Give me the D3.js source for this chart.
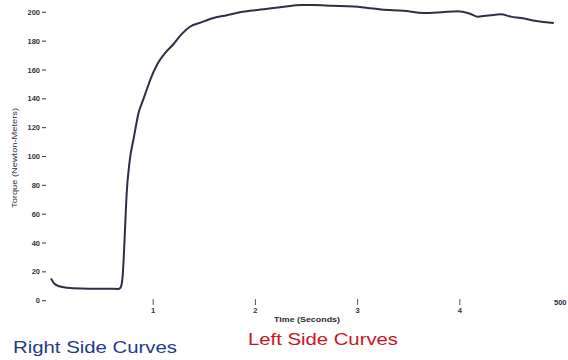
<!DOCTYPE html>
<html>
<head>
<meta charset="utf-8">
<script src="https://cdn.jsdelivr.net/npm/d3@7"></script>
<style>
	body { margin: 0; background: white; }
	svg { display: block; font-family: "Liberation Sans", Arial, sans-serif; }
</style>
</head>
<body>
<svg id="chart" width="568" height="360"></svg>
<script>
// Torque trace. Time in seconds, torque in N·m.
let times = [0.00, 0.03, 0.08, 0.16, 0.30, 0.50, 0.66, 0.68, 0.70, 0.715, 0.725, 0.74, 0.77, 0.81, 0.856, 0.905, 0.94, 0.97, 1.04, 1.12, 1.20, 1.28, 1.36, 1.47, 1.59, 1.72, 1.85, 2.00, 2.18, 2.30, 2.44, 2.57, 2.75, 2.96, 3.10, 3.23, 3.45, 3.65, 3.82, 3.98, 4.10, 4.18, 4.30, 4.40, 4.50, 4.60, 4.75, 4.92]
let torque = [15.5, 12, 10, 9, 8.5, 8.3, 8.2, 9, 16, 35, 51, 74, 97, 113, 130, 140, 147, 153, 164, 172, 178, 185, 190, 193, 196, 198, 200, 201.5, 203, 204, 205, 205, 204.5, 204, 203, 202, 201, 199.5, 200, 200.7, 199, 197, 198, 198.6, 197, 196, 194, 192.6]

let yticks = [0, 20, 40, 60, 80, 100, 120, 140, 160, 180, 200]
let xticks = [1, 2, 3, 4]
let xlastlabel = "500"

let legendlabels = ["Right Side Curves", "Left Side Curves"]


let svg = d3.select("#chart");

let x = d3.scaleLinear().domain([0, 5]).range([51, 562]);
let y = d3.scaleLinear().domain([0, 200]).range([300.7, 12.3]);


// Y axis: numbers followed by a short dash.
let yg = svg.append("g");
yg.selectAll("text")
  .data(yticks)
  .enter()
  .append("text")
	.attr("x", 40)
	.attr("y", d=>y(d))
	.attr("dy", "0.35em")
	.attr("text-anchor", "end")
	.attr("font-size", 7.5)
	.attr("font-weight", "bold")
	.attr("fill", "#333338")
	.text(d=>d)
yg.selectAll("line")
  .data(yticks)
  .enter()
  .append("line")
	.attr("x1", 42)
	.attr("x2", 46)
	.attr("y1", d=>y(d))
	.attr("y2", d=>y(d))
	.attr("stroke", "#333338")
	.attr("stroke-width", 1)

svg.append("text")
	.attr("transform", "translate(17,158) rotate(-90)")
	.attr("text-anchor", "middle")
	.attr("font-size", 6.5)
	.attr("fill", "#2a2a32")
	.attr("textLength", 100)
	.attr("lengthAdjust", "spacingAndGlyphs")
	.text("Torque (Newton-Meters)")


// X axis: small vertical mark over each number.
let xg = svg.append("g");
xg.selectAll("line")
  .data(xticks)
  .enter()
  .append("line")
	.attr("x1", d=>x(d))
	.attr("x2", d=>x(d))
	.attr("y1", 299)
	.attr("y2", 305)
	.attr("stroke", "#55555c")
	.attr("stroke-width", 1)
xg.selectAll("text")
  .data(xticks)
  .enter()
  .append("text")
	.attr("x", d=>x(d))
	.attr("y", 313)
	.attr("text-anchor", "middle")
	.attr("font-size", 7.5)
	.attr("font-weight", "bold")
	.attr("fill", "#333338")
	.text(d=>d)
svg.append("text")
	.attr("x", x(5) - 8)
	.attr("y", 305)
	.attr("font-size", 7.5)
	.attr("font-weight", "bold")
	.attr("fill", "#2a2a40")
	.text(xlastlabel)

svg.append("text")
	.attr("x", 307)
	.attr("y", 322)
	.attr("text-anchor", "middle")
	.attr("font-size", 7)
	.attr("font-weight", "bold")
	.attr("fill", "#2a2a32")
	.attr("textLength", 66)
	.attr("lengthAdjust", "spacingAndGlyphs")
	.text("Time (Seconds)")


// The torque curve.
let line = d3.line()
  .x(d=>x(d[0]))
  .y(d=>y(d[1]))
  .curve(d3.curveMonotoneX);

svg.append("path")
	.datum(times.map((t,i)=>[t, torque[i]]))
	.attr("d", line)
	.attr("fill", "none")
	.attr("stroke", "#2b3046")
	.attr("stroke-width", 2)
	.attr("stroke-linejoin", "round")


// Legend captions below the plot.
svg.append("text")
	.attr("x", 13)
	.attr("y", 353)
	.attr("font-size", 17)
	.attr("fill", "#1f3a8c")
	.attr("textLength", 164)
	.attr("lengthAdjust", "spacingAndGlyphs")
	.text(legendlabels[0])

svg.append("text")
	.attr("x", 248)
	.attr("y", 345)
	.attr("font-size", 17)
	.attr("fill", "#c8161e")
	.attr("textLength", 150)
	.attr("lengthAdjust", "spacingAndGlyphs")
	.text(legendlabels[1])
</script>
</body>
</html>
